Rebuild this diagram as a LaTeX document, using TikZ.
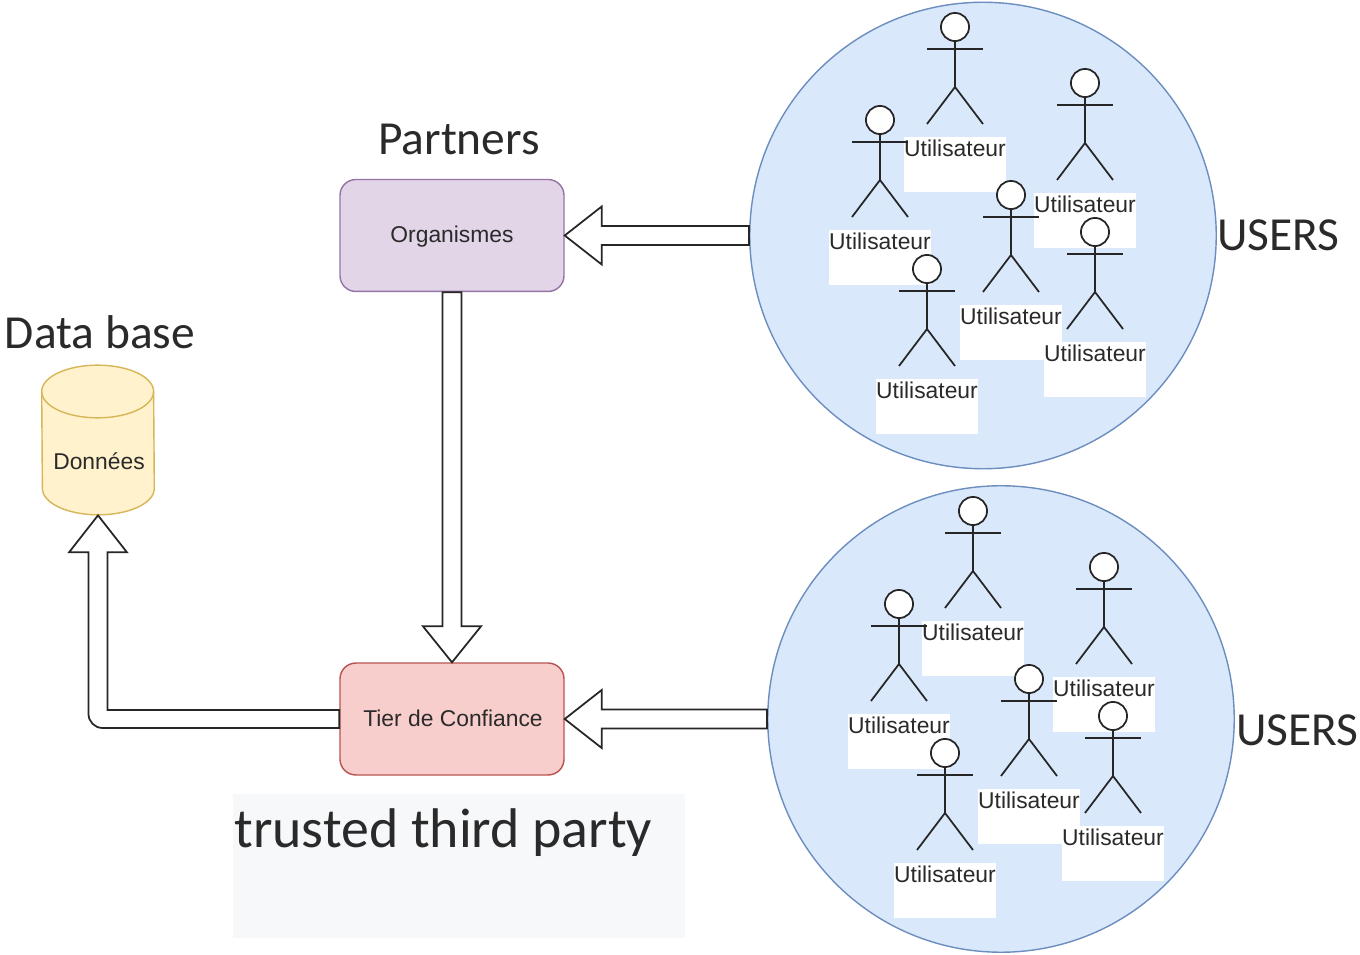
\documentclass[tikz,border=0pt]{standalone}
\usepackage{fontspec}
\setmainfont{Liberation Sans}
\newfontfamily\calibrifont{Carlito}
\usetikzlibrary{calc}
\definecolor{usersfill}{HTML}{DAE8FC}
\definecolor{usersline}{HTML}{6C8EBF}
\definecolor{orgfill}{HTML}{E1D5E7}
\definecolor{orgline}{HTML}{9673A6}
\definecolor{tierfill}{HTML}{F8CECC}
\definecolor{tierline}{HTML}{B85450}
\definecolor{dbfill}{HTML}{FFF2CC}
\definecolor{dbline}{HTML}{D6B656}
\definecolor{notefill}{HTML}{F7F8FA}
\definecolor{textgrey}{HTML}{2A2A2A}
\tikzset{
  box/.style={draw, rounded corners=9pt, minimum width=127.5pt, minimum height=63.7pt, line width=0.8pt, inner sep=0pt},
  users/.style={circle, draw=usersline, fill=usersfill, line width=0.8pt, inner sep=0pt},
  smalltext/.style={font=\fontsize{13}{15}\selectfont, text=textgrey, inner sep=0pt},
  bigtext/.style={font=\calibrifont\fontsize{27}{30}\selectfont, text=textgrey, inner sep=0pt},
  actorline/.style={line width=1pt, draw=black!85},
  whitebox/.style={fill=white, minimum width=58pt, minimum height=31.3pt, inner sep=0pt},
  blockarrow/.style={draw=black!85, fill=white, line width=1pt, line join=miter},
}
\begin{document}
\begin{tikzpicture}[x=0.02cm,y=-0.02cm]
\useasboundingbox (0,0) rectangle (1360,955);
\node[users, minimum size=265.5pt] (users1) at (983,235.5) {};
\node[users, minimum size=265.5pt] (users2) at (1001,719) {};
\node[box, draw=orgline, fill=orgfill] (org) at (452,235.5) {};
\node[box, draw=tierline, fill=tierfill] (tier) at (452,719) {};
\node[smalltext] (orgtext) at (452,237) {Organismes};
\node[smalltext] (tiertext) at (453,718) {Tier de Confiance};
\node[minimum width=63.7pt, minimum height=85.4pt, inner sep=0pt] (db) at (98,440) {};
\draw[draw=dbline, fill=dbfill, line width=0.8pt] (db.north west |- 0,391.5) arc[start angle=180, end angle=0, x radius=31.85pt, y radius=15pt]
  -- (db.north east |- 0,488.5) arc[start angle=0, end angle=-180, x radius=31.85pt, y radius=15pt] -- cycle;
\draw[draw=dbline, line width=0.8pt] (db.north west |- 0,391.5) arc[start angle=180, end angle=360, x radius=31.85pt, y radius=15pt];
\node[smalltext] (dbtext) at (99,461) {Données};
\node[fill=notefill, minimum width=257pt, minimum height=82pt, inner sep=0pt] (note) at (459,866) {};
\node[bigtext, font=\calibrifont\fontsize{31.8}{34}\selectfont, anchor=base west] (notetext) at (234,848) {trusted third party};
\node[bigtext] (partners) at (459,139) {Partners};
\node[bigtext] (database) at (100,332) {Data base};
\node[bigtext, anchor=west] (userslabel1) at (1217,235) {USERS};
\node[bigtext, anchor=west] (userslabel2) at (1236,730) {USERS};
% actors: name / head position
\foreach \n/\x/\y in {a/955/27,b/880/120,c/1085/83,d/1011/195,e/1095/232,f/927/269,
                      g/973/511,h/899/604,i/1104/567,j/1029/679,k/1113/716,l/945/753}{
  \node[whitebox] (box\n) at (\x,\y+137.5) {};
  \node[smalltext] (label\n) at (\x,\y+121) {Utilisateur};
  \node[circle, actorline, fill=white, minimum size=16pt, inner sep=0pt] (head\n) at (\x,\y) {};
  \coordinate (hip\n) at (\x,\y+60);
  \draw[actorline] (head\n) -- (hip\n) -- (\x-28,\y+97);
  \draw[actorline] (hip\n) -- (\x+28,\y+97);
  \draw[actorline] (\x-28,\y+22) -- (\x+28,\y+22);
}
% block arrows
\foreach \src/\dst in {users1/org,users2/tier}{
  \draw[blockarrow] (\dst.east) -- ($(\dst.east)+(37,-29)$) -- ($(\dst.east)+(37,-9.5)$)
    -- (\src.west |- {$(\dst.east)+(37,-9.5)$}) -- (\src.west |- {$(\dst.east)+(37,9.5)$})
    -- ($(\dst.east)+(37,9.5)$) -- ($(\dst.east)+(37,29)$) -- cycle;
}
\draw[blockarrow] (tier.north) -- ($(tier.north)+(-29,-36)$) -- ($(tier.north)+(-9.5,-36)$)
  -- ({$(tier.north)+(-9.5,0)$} |- org.south) -- ({$(tier.north)+(9.5,0)$} |- org.south)
  -- ($(tier.north)+(9.5,-36)$) -- ($(tier.north)+(29,-36)$) -- cycle;
\draw[blockarrow] (db.south) -- ($(db.south)+(29,37)$) -- ($(db.south)+(9.5,37)$)
  -- ({$(db.south)+(9.5,0)$} |- {$(tier.west)+(0,-9)$}) -- ($(tier.west)+(0,-9)$) -- ($(tier.west)+(0,9)$)
  [rounded corners=8pt] -- ({$(db.south)+(-9.5,0)$} |- {$(tier.west)+(0,9)$}) [sharp corners]
  -- ($(db.south)+(-9.5,37)$) -- ($(db.south)+(-29,37)$) -- cycle;
\end{tikzpicture}
\end{document}
